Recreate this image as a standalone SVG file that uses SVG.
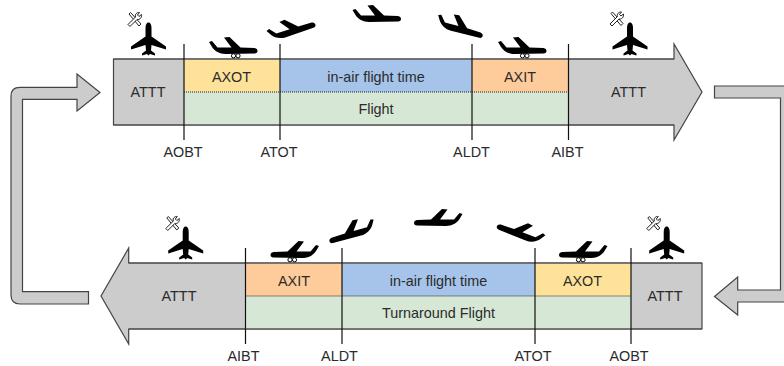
<svg xmlns="http://www.w3.org/2000/svg" xmlns:xlink="http://www.w3.org/1999/xlink" width="784" height="366" viewBox="0 0 784 366">
<style>
text{font-family:"Liberation Sans",Arial,sans-serif;font-size:14.4px;fill:#2b2b2b;text-anchor:middle}
.sh{fill:#ccc;stroke:#444;stroke-width:1.2}
.tick{stroke:#111;stroke-width:1.2;fill:none}
.dot{stroke:#222;stroke-width:1;stroke-dasharray:1 1;fill:none}
.ol{stroke:#444;stroke-width:1.2;fill:none}
.y{fill:#ffe299}.b{fill:#a6c3ea}.g{fill:#d6e7d5}.o{fill:#fecb9b}
</style>
<defs>
<path id="side" fill="#000" d="M-24.500,-7L-21.500,-8L-16,-1.500L-2,-1.500L-9.500,-11.500L-4,-12L7,-1.500L21,-1C25,-.5 25,4.500 21,4.500L-8,5C-14,5-19,2-21.500,-2Z"/>
<g id="taxi"><use xlink:href="#side"/><circle cx="0" cy="6.800" r="2.100" fill="#fff" stroke="#000"/><circle cx="4.500" cy="6.800" r="2.100" fill="#fff" stroke="#000"/></g>
<path id="top" fill="#000" d="M0,0C2,0 3,2.500 3,6L3,14L17.500,24L17.500,27L3,22.500L2.500,28L6.500,31L6.500,33L1.500,31.500L0,33L-1.500,31.500L-6.500,33L-6.500,31L-2.500,28L-3,22.500L-17.500,27L-17.500,24L-3,14L-3,6C-3,2.500-2,0 0,0Z"/>
<g id="tool" fill="#fff" stroke="#222" stroke-width="1"><path d="M-5.500,-6L-4,-7.500L6.500,4L4.500,6Z"/><path d="M-6.500,4.500L1,-3C0,-6 3,-8 5,-7.500L3,-5L4.500,-3.500L7,-5.500C7.500,-2 5,0 2.500,-.5L-4.500,6.500Z"/></g>
</defs>
<g id="connectors">
<path class="sh" d="M88.500,304H20Q11,304 11,295V96Q11,87.300 20,87.300H77V74L100,92.500L77,111V99.300H22.500V291.700H88.500Z"/>
<path class="sh" d="M786,302H737.700V315L714.500,296.500L737.700,277V290H780.500V98H714.500V86H786"/>
</g>
<g id="flight-band">
<path class="sh" d="M113.500,59H674V44L702,92L674,140V125H113.500Z"/>
<rect class="y" x="184" y="59.600" width="96" height="32.400"/>
<rect class="b" x="280" y="59.600" width="192" height="32.400"/>
<rect class="o" x="472" y="59.600" width="96.500" height="32.400"/>
<rect class="g" x="184" y="92" width="384.500" height="32.400"/>
<path class="dot" d="M184,92H568.500"/>
<path class="ol" d="M113.500,59H674M113.500,125H674"/>
<text x="148" y="97">ATTT</text>
<text x="231.500" y="81.500">AXOT</text>
<text x="376" y="81.500">in-air flight time</text>
<text x="520" y="81.500">AXIT</text>
<text x="376" y="114">Flight</text>
<text x="628.500" y="97">ATTT</text>
</g>
<g id="turnaround-band">
<path class="sh" d="M702,263H128.700V248L101,296L128.700,344V329H702Z"/>
<rect class="o" x="245.500" y="263.600" width="96.500" height="32.400"/>
<rect class="b" x="342" y="263.600" width="193" height="32.400"/>
<rect class="y" x="535" y="263.600" width="96" height="32.400"/>
<rect class="g" x="245.500" y="296" width="385.500" height="32.400"/>
<path class="dot" d="M245.500,296H631"/>
<path class="ol" d="M128.700,263H702M128.700,329H702"/>
<text x="179" y="301">ATTT</text>
<text x="294" y="285.500">AXIT</text>
<text x="438.500" y="285.500">in-air flight time</text>
<text x="582.500" y="285.500">AXOT</text>
<text x="438.500" y="318">Turnaround Flight</text>
<text x="665" y="301">ATTT</text>
</g>
<g id="milestones-top">
<path class="tick" d="M184,44V140M280,44V140M472,44V140M568.500,44V140"/>
<text x="183" y="157">AOBT</text><text x="279" y="157">ATOT</text><text x="471.500" y="157">ALDT</text><text x="567.500" y="157">AIBT</text>
</g>
<g id="milestones-bottom">
<path class="tick" d="M245.500,248V344M342,248V344M535,248V344M631,248V344"/>
<text x="243.500" y="361">AIBT</text><text x="339.500" y="361">ALDT</text><text x="533" y="361">ATOT</text><text x="629" y="361">AOBT</text>
</g>
<g id="icons-top">
<use xlink:href="#top" x="148.500" y="22.500"/><use xlink:href="#tool" transform="translate(134.500,20)"/>
<use xlink:href="#taxi" x="233.500" y="49"/>
<use xlink:href="#side" transform="translate(292,30) rotate(-18)"/>
<use xlink:href="#side" transform="translate(377,17)"/>
<use xlink:href="#side" transform="translate(460,28) rotate(15)"/>
<use xlink:href="#taxi" x="522.500" y="49"/>
<use xlink:href="#top" x="630" y="22.500"/><use xlink:href="#tool" transform="translate(616.500,19.500)"/>
</g>
<g id="icons-bottom">
<use xlink:href="#top" x="185.700" y="226.500"/><use xlink:href="#tool" transform="translate(172.300,224)"/>
<use xlink:href="#taxi" transform="translate(294.500,253) scale(-1,1)"/>
<use xlink:href="#side" transform="translate(352,233) scale(-1,1) rotate(16)"/>
<use xlink:href="#side" transform="translate(438,221) scale(-1,1)"/>
<use xlink:href="#side" transform="translate(520,233) scale(-1,1) rotate(-21)"/>
<use xlink:href="#taxi" transform="translate(583,253) scale(-1,1)"/>
<use xlink:href="#top" x="666.700" y="226.500"/><use xlink:href="#tool" transform="translate(653.300,224)"/>
</g>
</svg>
